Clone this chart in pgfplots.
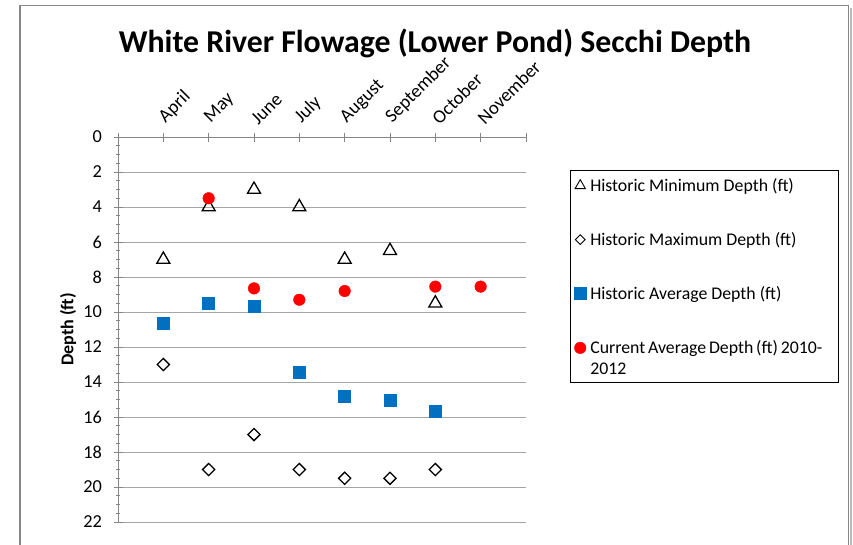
\documentclass[border=0pt]{standalone}
\usepackage{pgfplots}
\pgfplotsset{compat=1.18}
\usepackage{fontspec}
\setmainfont{Carlito}
\definecolor{axgray}{RGB}{134,134,134}
\definecolor{gridgray}{RGB}{165,165,165}
\definecolor{avgblue}{RGB}{0,112,192}
\pgfplotsset{
  onemark/.style={legend image code/.code={\draw[##1] plot coordinates {(0pt,0pt)};}},
  smallmark/.style={legend image code/.code={\draw[##1, every mark/.append style={scale=0.8, line width=0.9pt}] plot coordinates {(0pt,0pt)};}},
  shiftedmark/.style={legend image code/.code={\draw[##1] plot coordinates {(0pt,4pt)};}},
}
\begin{document}
\begin{tikzpicture}[x=1pt,y=1pt]
\useasboundingbox (0,0) rectangle (853,544);
\draw[axgray, line width=1.3pt] (20,-10) -- (20,538.3) -- (848.5,538.3) -- (848.5,-10);
\draw[gray!55, line width=2.5pt] (850.8,-10) -- (850.8,536);
\node[font=\bfseries\fontsize{31.8}{36}\selectfont] at (435,501) {White River Flowage (Lower Pond) Secchi Depth};
\draw[black, line width=0.8pt] (570,374) rectangle (838,162);
\begin{axis}[
  at={(118pt,22pt)}, anchor=south west,
  scale only axis, width=408pt, height=385pt,
  xmin=0, xmax=9, ymin=0, ymax=22, y dir=reverse,
  clip=false,
  separate axis lines,
  x axis line style={draw=none},
  y axis line style={draw=none},
  xtick={0,...,9},
  xticklabels={,April,May,June,July,August,September,October,November,},
  xtick pos=upper,
  xticklabel pos=upper,
  ytick pos=left,
  ytick={0,2,...,22},
  minor y tick num=3,
  ymajorgrids,
  grid style={gridgray, line width=0.9pt},
  tick align=center,
  major tick length=9pt,
  minor tick length=4pt,
  xtick style={axgray, line width=0.8pt},
  ytick style={axgray, line width=0.8pt},
  /pgf/number format/assume math mode=true,
  tick label style={font=\fontsize{18.3}{22}\selectfont, black},
  yticklabel style={anchor=east, xshift=-8pt},
  xticklabel style={rotate=45, anchor=south west, font=\fontsize{18.8}{22}\selectfont, xshift=4.6pt, yshift=-1.7pt},
  ylabel={Depth (ft)},
  ylabel style={at={(axis description cs:-0.1225,0.5)}, anchor=center, rotate=0, font=\bfseries\fontsize{18}{22}\selectfont},
  legend style={at={(axis description cs:1.108,0.906)}, anchor=north west,
    draw=none, fill=none, font=\fontsize{17.8}{21}\selectfont,
    inner xsep=4pt, inner ysep=4pt, nodes={inner sep=1pt}, column sep=3pt, row sep=37.5pt},
  legend cell align=left,
  onemark,
]
\addplot[only marks, mark=triangle, mark size=7.5pt, mark options={black, fill=white, line width=1.3pt}, smallmark]
  coordinates {(1,7) (2,4) (3,3) (4,4) (5,7) (6,6.5) (7,9.5)};
\addlegendentry{Historic Minimum Depth (ft)}
\addplot[only marks, mark=square, mark size=4.3pt, mark options={black, fill=white, line width=1.3pt, rotate=45}, smallmark]
  coordinates {(1,13) (2,19) (3,17) (4,19) (5,19.5) (6,19.5) (7,19)};
\addlegendentry{Historic Maximum Depth (ft)}
\addplot[only marks, mark=square*, mark size=6pt, mark options={avgblue, fill=avgblue}]
  coordinates {(1,10.65) (2,9.47) (3,9.67) (4,13.45) (5,14.8) (6,15.05) (7,15.65)};
\addlegendentry{Historic Average Depth (ft)}
\addplot[only marks, mark=*, mark size=5.8pt, mark options={red, fill=red}, shiftedmark]
  coordinates {(2,3.5) (3,8.65) (4,9.3) (5,8.8) (7,8.55) (8,8.55)};
\addlegendentry{\parbox[c]{232pt}{Current Average Depth (ft) 2010-\\2012}}
\draw[axgray, line width=0.9pt] (axis cs:0,22) -- (axis cs:0,0) -- (axis cs:9,0);
\end{axis}
\end{tikzpicture}
\end{document}
